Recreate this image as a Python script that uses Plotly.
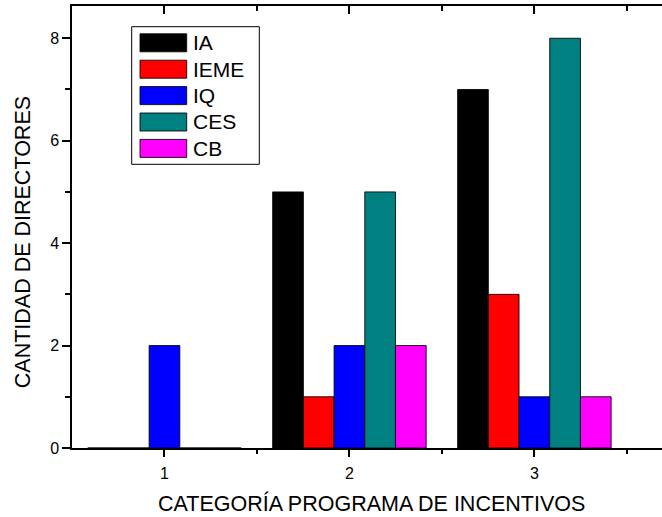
import plotly.graph_objects as go

categories = [1, 2, 3]
series_names = ["IA", "IEME", "IQ", "CES", "CB"]
ia = [0, 5, 7]
ieme = [0, 1, 3]
iq = [2, 2, 1]
ces = [0, 5, 8]
cb = [0, 2, 1]
x_title = "CATEGORÍA PROGRAMA DE INCENTIVOS"
y_title = "CANTIDAD DE DIRECTORES"

values = [ia, ieme, iq, ces, cb]
colors = ["#000000", "#FF0000", "#0000FF", "#008080", "#FF00FF"]

W, H = 662, 517
ML, MR, MT, MB = 72, 0, 6, 69
PW, PH = W - ML - MR, H - MT - MB
FONT = "Liberation Sans, Arial, sans-serif"

def px(x):
    return (x - ML) / PW

def py(y):
    return (H - MB - y) / PH

fig = go.Figure()
for name, vals, col in zip(series_names, values, colors):
    fig.add_trace(go.Bar(
        x=categories, y=vals, name=name,
        marker=dict(color=col, line=dict(color="rgba(0,0,0,0.85)", width=1)),
        showlegend=False,
    ))

# invisible trace to activate top axis
fig.add_trace(go.Scatter(x=[1, 3], y=[0, 0], xaxis="x2", mode="markers",
                         marker=dict(opacity=0), showlegend=False, hoverinfo="skip"))

xr = [0.5, 3.69]
fig.update_layout(
    width=W, height=H,
    margin=dict(l=ML, r=MR, t=MT, b=MB),
    paper_bgcolor="white", plot_bgcolor="white",
    barmode="group", bargap=0.17, bargroupgap=0,
    font=dict(family=FONT, color="black"),
    xaxis=dict(
        range=xr, tickvals=categories, ticktext=[str(c) for c in categories],
        ticks="outside", ticklen=7, tickwidth=1.5, tickcolor="black",
        minor=dict(tickvals=[1.5, 2.5, 3.5], ticks="outside", ticklen=4, tickwidth=1.5, tickcolor="black"),
        showline=True, linecolor="black", linewidth=1.5, showgrid=False, zeroline=False,
        tickfont=dict(size=16, family=FONT), ticklabelstandoff=3,
    ),
    xaxis2=dict(
        range=xr, overlaying="x", side="top", tickvals=categories, showticklabels=False,
        ticks="inside", ticklen=8, tickwidth=1.5, tickcolor="black",
        minor=dict(tickvals=[1.5, 2.5, 3.5], ticks="inside", ticklen=5, tickwidth=1.5, tickcolor="black"),
        showline=True, linecolor="black", linewidth=1.5, showgrid=False, zeroline=False,
    ),
    yaxis=dict(
        range=[0, 8.63], tickvals=[0, 2, 4, 6, 8],
        ticks="outside", ticklen=8, tickwidth=1.5, tickcolor="black",
        minor=dict(tickvals=[1, 3, 5, 7], ticks="outside", ticklen=5, tickwidth=1.5, tickcolor="black"),
        showline=True, linecolor="black", linewidth=1.5, showgrid=False, zeroline=False,
        tickfont=dict(size=16, family=FONT),
    ),
)

# Manual legend (wide swatches like the original)
shapes = [dict(type="rect", xref="paper", yref="paper",
               x0=px(131.7), x1=px(259.3), y0=py(164.3), y1=py(26.7),
               line=dict(color="black", width=1), fillcolor="white", layer="above")]
annotations = [
    dict(xref="paper", yref="paper", x=px(371.3), y=py(503), xanchor="center", yanchor="middle",
         text=x_title, showarrow=False, font=dict(size=21.5, family=FONT, color="black")),
    dict(xref="paper", yref="paper", x=px(22.5), y=py(242.7), xanchor="center", yanchor="middle",
         text=y_title, textangle=-90, showarrow=False, font=dict(size=21.5, family=FONT, color="black")),
]
row0, step, sh = 42.8, 26.4, 18
for i, (name, col) in enumerate(zip(series_names, colors)):
    cy = row0 + i * step
    shapes.append(dict(type="rect", xref="paper", yref="paper",
                       x0=px(140), x1=px(186.7), y0=py(cy + sh / 2), y1=py(cy - sh / 2),
                       line=dict(color="rgba(0,0,0,0.85)", width=1), fillcolor=col, layer="above"))
    annotations.append(dict(xref="paper", yref="paper", x=px(191), y=py(cy),
                            xanchor="left", yanchor="middle", text=name, showarrow=False,
                            font=dict(size=21, family=FONT, color="black")))
fig.update_layout(shapes=shapes, annotations=annotations)

fig.write_html("out.html", config={"displayModeBar": False},
               post_script="document.body.style.margin='0';")
